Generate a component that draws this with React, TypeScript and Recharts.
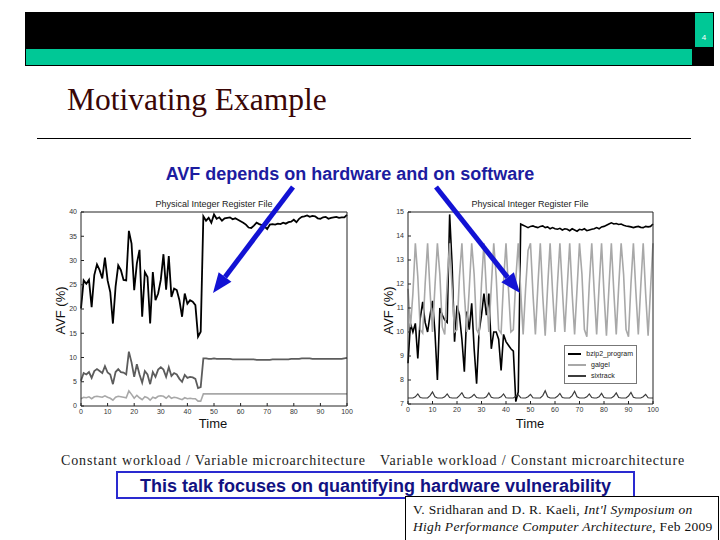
import React from 'react';
import { LineChart, Line, XAxis, YAxis, Legend } from 'recharts';

// x axis is shared by both plots
const TIME_TICKS = [0, 10, 20, 30, 40, 50, 60, 70, 80, 90, 100];
const LEFT_Y_TICKS = [0, 5, 10, 15, 20, 25, 30, 35, 40];
const RIGHT_Y_TICKS = [7, 8, 9, 10, 11, 12, 13, 14, 15];

// left plot: constant workload, three microarchitectures
const LEFT_TOP = [
  20.1, 25.9, 25.2, 26.0, 20.4, 27.0, 29.2, 28.0, 26.3, 30.6,
  25.9, 23.5, 17.0, 24.6, 29.0, 28.0, 26.0, 25.9, 36.1, 33.5,
  23.9, 29.4, 32.2, 18.4, 27.6, 26.6, 17.0, 27.6, 21.8, 23.2,
  26.0, 31.3, 24.0, 30.9, 22.5, 24.2, 23.9, 21.8, 18.4, 23.2,
  21.1, 21.8, 21.5, 20.8, 14.3, 15.3, 39.1, 38.2, 38.8, 37.8,
  39.5, 38.6, 38.9, 38.2, 38.7, 38.8, 38.9, 38.5, 38.7, 38.4,
  38.1, 37.8, 37.4, 36.8, 36.7, 37.2, 37.8, 37.5, 37.3, 37.0,
  36.5, 37.4, 37.5, 37.4, 37.6, 37.5, 37.8, 37.6, 37.9, 38.0,
  38.4, 37.9, 38.6, 39.0, 39.1, 39.3, 39.0, 39.2, 39.1, 38.7,
  38.6, 38.9, 39.0, 38.6, 38.8, 38.9, 39.0, 38.8, 38.9, 38.9,
  39.4,
];
const LEFT_MID = [
  5.2, 6.8, 6.5, 7.0, 5.8, 7.2, 7.6, 7.2, 6.8, 8.2,
  6.9, 6.5, 4.5, 7.0, 7.6, 7.0, 6.9, 6.5, 11.2, 9.0,
  6.0, 8.6, 6.5, 4.8, 7.2, 6.5, 4.5, 7.0, 6.0, 7.5,
  8.0, 7.5, 6.0, 8.0, 6.2, 6.8, 6.5, 5.6, 5.0, 6.4,
  5.8, 6.0, 5.9, 5.6, 3.7, 3.9, 9.8, 9.8, 9.7, 9.7,
  9.8, 9.7, 9.7, 9.7, 9.7, 9.7, 9.7, 9.6, 9.6, 9.6,
  9.6, 9.6, 9.6, 9.6, 9.6, 9.6, 9.5, 9.5, 9.5, 9.5,
  9.5, 9.5, 9.6, 9.6, 9.6, 9.6, 9.6, 9.6, 9.6, 9.7,
  9.7, 9.7, 9.7, 9.8, 9.8, 9.8, 9.8, 9.7, 9.7, 9.7,
  9.7, 9.7, 9.7, 9.7, 9.7, 9.7, 9.7, 9.7, 9.7, 9.8,
  9.9,
];
const LEFT_LOW = [
  1.5, 1.8, 1.7, 1.9, 1.5, 1.9, 2.0, 1.9, 1.8, 2.1,
  1.8, 1.6, 1.2, 1.8, 2.0, 1.9, 1.8, 1.7, 3.1, 2.4,
  1.6, 2.2, 1.7, 1.3, 1.9, 1.7, 1.2, 1.8, 1.6, 2.0,
  2.1, 2.0, 1.6, 2.1, 1.6, 1.8, 1.7, 1.5, 1.3, 1.7,
  1.5, 1.6, 1.5, 1.5, 1.0, 1.0, 2.5, 2.5, 2.5, 2.5,
  2.5, 2.5, 2.5, 2.5, 2.5, 2.5, 2.5, 2.5, 2.5, 2.5,
  2.5, 2.5, 2.5, 2.5, 2.5, 2.5, 2.5, 2.5, 2.5, 2.5,
  2.5, 2.5, 2.5, 2.5, 2.5, 2.5, 2.5, 2.5, 2.5, 2.5,
  2.5, 2.5, 2.5, 2.5, 2.5, 2.5, 2.5, 2.5, 2.5, 2.5,
  2.5, 2.5, 2.5, 2.5, 2.5, 2.5, 2.5, 2.5, 2.5, 2.5,
  2.5,
];

// right plot: three workloads, constant microarchitecture
const BZIP2 = [
  8.7, 10.36, 10.0, 10.36, 8.9, 10.57, 11.26, 10.4, 10.0, 10.7,
  11.3, 10.0, 8.0, 11.0, 10.7, 10.5, 10.4, 14.9, 12.8, 9.6,
  11.1, 10.7, 9.7, 8.35, 10.85, 10.1, 11.2, 9.3, 7.85, 10.0,
  10.7, 11.6, 10.7, 11.6, 9.3, 10.0, 10.0, 9.7, 8.4, 9.9,
  9.6, 9.45, 9.3, 9.2, 7.1, 7.5, 14.5, 14.45, 14.4, 14.35,
  14.4, 14.42, 14.38, 14.35, 14.4, 14.42, 14.35, 14.38, 14.3, 14.35,
  14.3, 14.28, 14.32, 14.25, 14.3, 14.28, 14.22, 14.3, 14.25, 14.2,
  14.28, 14.25, 14.3, 14.22, 14.25, 14.28, 14.3, 14.35, 14.3, 14.38,
  14.4, 14.45, 14.5, 14.55, 14.5, 14.52, 14.48, 14.5, 14.45, 14.42,
  14.4, 14.38, 14.35, 14.38, 14.4, 14.36, 14.35, 14.4, 14.38, 14.4,
  14.5,
];
const GALGEL = [
  11.8, 10.2, 11.6, 13.7, 12.3, 10.1, 9.95, 12.0, 13.7, 11.7,
  10.0, 11.9, 13.7, 12.4, 10.2, 9.9, 12.1, 13.7, 11.8, 10.0,
  10.1, 12.3, 13.7, 11.6, 10.0, 11.8, 13.7, 12.4, 10.1, 9.9,
  12.0, 13.7, 11.7, 10.0, 11.9, 13.7, 12.3, 10.1, 9.95, 12.1,
  13.7, 11.8, 10.0, 10.1, 12.2, 13.7, 11.7, 9.9, 11.8, 13.4,
  13.7, 11.6, 9.9, 11.9, 13.7, 11.5, 9.85, 11.9, 13.7, 11.7,
  10.0, 12.0, 13.7, 11.8, 10.0, 11.9, 13.7, 11.6, 9.9, 11.8,
  13.7, 12.4, 10.1, 9.8, 12.0, 13.7, 11.7, 9.9, 11.9, 13.7,
  11.6, 9.85, 11.8, 13.7, 11.7, 9.9, 11.9, 13.7, 12.4, 10.1,
  9.8, 12.0, 13.7, 11.7, 9.9, 11.9, 13.7, 11.6, 9.85, 11.8,
  13.7,
];
const SIXTRACK = [
  7.25, 7.25, 7.25, 7.3, 7.42, 7.27, 7.25, 7.25, 7.25, 7.35,
  7.5, 7.3, 7.25, 7.25, 7.25, 7.3, 7.42, 7.27, 7.25, 7.25,
  7.25, 7.35, 7.47, 7.28, 7.25, 7.25, 7.3, 7.4, 7.27, 7.25,
  7.25, 7.25, 7.3, 7.46, 7.28, 7.25, 7.25, 7.25, 7.3, 7.42,
  7.26, 7.25, 7.25, 7.25, 7.32, 7.38, 7.26, 7.25, 7.25, 7.3,
  7.4, 7.26, 7.25, 7.25, 7.25, 7.35, 7.55, 7.3, 7.25, 7.25,
  7.25, 7.32, 7.44, 7.27, 7.25, 7.25, 7.25, 7.35, 7.53, 7.3,
  7.25, 7.25, 7.25, 7.3, 7.42, 7.27, 7.25, 7.25, 7.3, 7.44,
  7.27, 7.25, 7.25, 7.25, 7.32, 7.46, 7.27, 7.25, 7.25, 7.25,
  7.33, 7.48, 7.28, 7.25, 7.25, 7.25, 7.3, 7.4, 7.26, 7.25,
  7.25,
];

const leftData = LEFT_TOP.map((v, i) => ({ t: i, top: v, mid: LEFT_MID[i], low: LEFT_LOW[i] }));
const rightData = BZIP2.map((v, i) => ({ t: i, bzip2: v, galgel: GALGEL[i], sixtrack: SIXTRACK[i] }));

const SANS = '"Liberation Sans", Arial, sans-serif';
const SERIF = '"Liberation Serif", "Times New Roman", serif';
const TEAL = '#00c896';
const ARROW_BLUE = '#1212d4';

const tickStyle = { fontSize: 7, fill: '#333' };

// matlab-style boxed axes: ticks point inward on all four sides
const boxAxes = (yDomain: number[], yTicks: number[]) => [
  <XAxis key="xb" xAxisId="b" dataKey="t" type="number" domain={[0, 100]} ticks={TIME_TICKS} interval={0}
    height={16} tickSize={-3} tickMargin={6} stroke="#222" tick={tickStyle} />,
  <XAxis key="xt" xAxisId="t" orientation="top" dataKey="t" type="number" domain={[0, 100]} ticks={TIME_TICKS}
    height={1} tickSize={-3} tick={false} stroke="#222" />,
  <YAxis key="yl" yAxisId="l" type="number" domain={yDomain} ticks={yTicks} interval={0}
    width={20} tickSize={-3} tickMargin={7} stroke="#222" tick={tickStyle} />,
  <YAxis key="yr" yAxisId="r" orientation="right" type="number" domain={yDomain} ticks={yTicks}
    width={1} tickSize={-3} tick={false} stroke="#222" />,
];

const LegendBox = ({ payload }: any) => (
  <div style={{ border: '1px solid #777', background: '#fff', padding: '2px 3px', fontFamily: SANS }}>
    {(payload || []).map((p: any) => (
      <div key={p.value} style={{ display: 'flex', alignItems: 'center', height: 11 }}>
        <svg width={18} height={4}>
          <line x1={0} y1={2} x2={18} y2={2} stroke={p.color} strokeWidth={2} />
        </svg>
        <span style={{ fontSize: 7, marginLeft: 5, color: '#222' }}>{p.value}</span>
      </div>
    ))}
  </div>
);

const abs = (left: number, top: number, extra: React.CSSProperties = {}): React.CSSProperties => ({
  position: 'absolute', left, top, ...extra,
});

const Arrow = ({ x1, y1, x2, y2 }: { x1: number; y1: number; x2: number; y2: number }) => {
  const ang = Math.atan2(y2 - y1, x2 - x1);
  const len = 20, half = 8;
  const bx = x2 - len * Math.cos(ang), by = y2 - len * Math.sin(ang);
  const px = -Math.sin(ang) * half, py = Math.cos(ang) * half;
  return (
    <g>
      <line x1={x1} y1={y1} x2={bx} y2={by} stroke={ARROW_BLUE} strokeWidth={5} />
      <polygon points={`${x2},${y2} ${bx + px},${by + py} ${bx - px},${by - py}`} fill={ARROW_BLUE} />
    </g>
  );
};

export default function App() {
  return (
    <div style={{ position: 'absolute', left: 0, top: 0, width: 720, height: 540, background: '#fff', overflow: 'hidden', fontFamily: SANS }}>
      {/* header band */}
      <div style={abs(25, 12, { width: 689, height: 54, background: '#000' })} />
      <div style={abs(26, 49, { width: 666, height: 16, background: TEAL })} />
      <div style={abs(695, 13, { width: 18, height: 34, background: TEAL, color: '#fff', fontSize: 8, textAlign: 'center', lineHeight: '50px' })}>4</div>

      <div style={abs(67, 81, { fontFamily: SERIF, fontSize: 31.5, color: '#3a0606', lineHeight: '38px', whiteSpace: 'nowrap' })}>Motivating Example</div>
      <div style={abs(37, 138, { width: 654, height: 1, background: '#000' })} />

      <div style={abs(0, 164, { width: 700, textAlign: 'center', fontSize: 18, fontWeight: 'bold', color: '#1c1ca0', lineHeight: '20px' })}>
        AVF depends on hardware and on software
      </div>

      {/* left plot */}
      <div style={abs(40, 195, { width: 320, height: 240 })}>
        <LineChart width={320} height={240} data={leftData} margin={{ top: 16, right: 12, bottom: 13, left: 21 }}>
          {boxAxes([0, 40], LEFT_Y_TICKS)}
          <Line xAxisId="b" yAxisId="l" dataKey="low" stroke="#a8a8a8" strokeWidth={1.6} dot={false} isAnimationActive={false} />
          <Line xAxisId="b" yAxisId="l" dataKey="mid" stroke="#5c5c5c" strokeWidth={1.8} dot={false} isAnimationActive={false} />
          <Line xAxisId="b" yAxisId="l" dataKey="top" stroke="#000" strokeWidth={1.8} dot={false} isAnimationActive={false} />
        </LineChart>
      </div>
      <div style={abs(114, 198, { width: 200, textAlign: 'center', fontSize: 9, color: '#222', lineHeight: '12px' })}>Physical Integer Register File</div>
      <div style={abs(10, 303, { width: 100, textAlign: 'center', fontSize: 13, color: '#111', lineHeight: '15px', transform: 'rotate(-90deg)' })}>AVF (%)</div>
      <div style={abs(163, 416, { width: 100, textAlign: 'center', fontSize: 13, color: '#111', lineHeight: '15px' })}>Time</div>

      {/* right plot */}
      <div style={abs(370, 195, { width: 300, height: 240 })}>
        <LineChart width={300} height={240} data={rightData} margin={{ top: 16, right: 16, bottom: 15, left: 18 }}>
          {boxAxes([7, 15], RIGHT_Y_TICKS)}
          <Line xAxisId="b" yAxisId="l" dataKey="bzip2" name="bzip2_program" stroke="#000" strokeWidth={1.6} dot={false} isAnimationActive={false} />
          <Line xAxisId="b" yAxisId="l" dataKey="galgel" name="galgel" stroke="#a8a8a8" strokeWidth={1.6} dot={false} isAnimationActive={false} />
          <Line xAxisId="b" yAxisId="l" dataKey="sixtrack" name="sixtrack" stroke="#3c3c3c" strokeWidth={1.2} dot={false} isAnimationActive={false} />
          <Legend layout="vertical" align="center" verticalAlign="middle" content={<LegendBox />}
            wrapperStyle={{ left: 194, top: 150, width: 73 }} />
        </LineChart>
      </div>
      <div style={abs(430, 198, { width: 200, textAlign: 'center', fontSize: 9, color: '#222', lineHeight: '12px' })}>Physical Integer Register File</div>
      <div style={abs(338, 303, { width: 100, textAlign: 'center', fontSize: 13, color: '#111', lineHeight: '15px', transform: 'rotate(-90deg)' })}>AVF (%)</div>
      <div style={abs(480, 416, { width: 100, textAlign: 'center', fontSize: 13, color: '#111', lineHeight: '15px' })}>Time</div>

      {/* annotation arrows */}
      <svg width={720} height={540} style={abs(0, 0, { pointerEvents: 'none' })}>
        <Arrow x1={293} y1={187} x2={213} y2={293} />
        <Arrow x1={436} y1={187} x2={520} y2={293} />
      </svg>

      <div style={abs(61, 453, { fontFamily: SERIF, fontSize: 14, color: '#222', lineHeight: '16px', whiteSpace: 'nowrap', letterSpacing: 0.85 })}>
        Constant workload / Variable microarchitecture
      </div>
      <div style={abs(380, 453, { fontFamily: SERIF, fontSize: 14, color: '#222', lineHeight: '16px', whiteSpace: 'nowrap', letterSpacing: 0.85 })}>
        Variable workload / Constant microarchitecture
      </div>

      <div style={abs(116, 471, { width: 515, height: 24, border: '2px solid #2a2ad0', textAlign: 'center', fontSize: 18, fontWeight: 'bold', color: '#121282', lineHeight: '26px', whiteSpace: 'nowrap' })}>
        This talk focuses on quantifying hardware vulnerability
      </div>

      <div style={abs(405, 496, { width: 305, height: 42, border: '1px solid #000', background: '#fff', paddingLeft: 7, fontFamily: SERIF, fontSize: 13.5, color: '#111', lineHeight: '17px', paddingTop: 4, whiteSpace: 'nowrap', letterSpacing: 0.3 })}>
        <div>V. Sridharan and D. R. Kaeli, <i>Int'l Symposium on</i></div>
        <div><i>High Performance Computer Architecture,</i> Feb 2009</div>
      </div>
    </div>
  );
}
